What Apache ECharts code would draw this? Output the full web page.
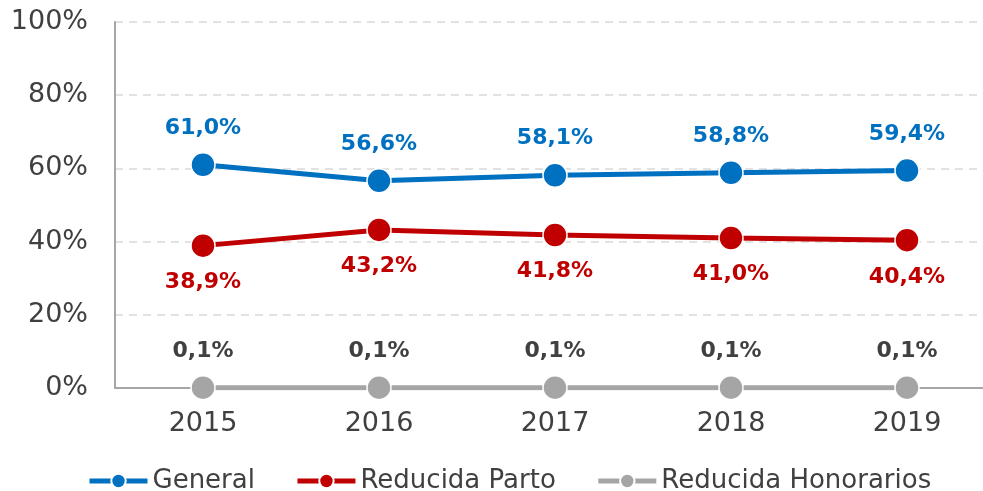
<!DOCTYPE html>
<html>
<head>
<meta charset="utf-8">
<script src="https://cdn.jsdelivr.net/npm/echarts@6/dist/echarts.min.js"></script>
<style>
  html, body { margin: 0; padding: 0; background: #fff; }
  #chart { width: 983px; height: 491px; }
</style>
</head>
<body>
<div id="chart"></div>
<script>
var years = ['2015', '2016', '2017', '2018', '2019'];
var general = [61.0, 56.6, 58.1, 58.8, 59.4];
var reducidaParto = [38.9, 43.2, 41.8, 41.0, 40.4];
var reducidaHonorarios = [0.1, 0.1, 0.1, 0.1, 0.1];

var font = 'DejaVu Sans, Verdana, sans-serif';

function fmt(p) {
  return p.value.toFixed(1).replace('.', ',') + '%';
}

function makeSeries(name, data, color, pos, labelColor) {
  return {
    name: name,
    type: 'line',
    data: data,
    symbol: 'circle',
    symbolSize: 24,
    lineStyle: { color: color, width: 5 },
    itemStyle: { color: color, borderColor: '#fff', borderWidth: 1.5 },
    label: {
      show: true,
      position: pos,
      distance: 13,
      formatter: fmt,
      color: labelColor,
      fontFamily: font,
      fontWeight: 'bold',
      fontSize: 22
    },
    emphasis: { disabled: true }
  };
}

var chart = echarts.init(document.getElementById('chart'));
chart.setOption({
  animation: false,
  textStyle: { fontFamily: font },
  grid: { left: 115, top: 22, width: 880, height: 366, outerBoundsMode: 'none', containLabel: false },
  legend: {
    top: 463,
    left: 82,
    itemWidth: 58,
    itemHeight: 18,
    itemGap: 40,
    lineStyle: { width: 5 },
    textStyle: { fontSize: 26, color: '#404040', fontFamily: font },
    data: ['General', 'Reducida Parto', 'Reducida Honorarios']
  },
  xAxis: {
    type: 'category',
    data: years,
    boundaryGap: true,
    axisLine: { lineStyle: { color: '#A6A6A6', width: 2 } },
    axisTick: { show: false },
    axisLabel: { fontSize: 27, color: '#404040', margin: 22, fontFamily: font }
  },
  yAxis: {
    type: 'value',
    min: 0,
    max: 100,
    interval: 20,
    axisLine: { show: true, lineStyle: { color: '#A6A6A6', width: 2 } },
    axisTick: { show: false },
    axisLabel: {
      fontSize: 27, color: '#404040', margin: 27, fontFamily: font,
      formatter: '{value}%'
    },
    splitLine: { lineStyle: { color: '#D9D9D9', type: [8, 6], width: 1.5 } }
  },
  series: [
    makeSeries('General', general, '#0070C0', 'top', '#0070C0'),
    makeSeries('Reducida Parto', reducidaParto, '#C00000', 'bottom', '#C00000'),
    makeSeries('Reducida Honorarios', reducidaHonorarios, '#A5A5A5', 'top', '#404040')
  ]
});
</script>
</body>
</html>
